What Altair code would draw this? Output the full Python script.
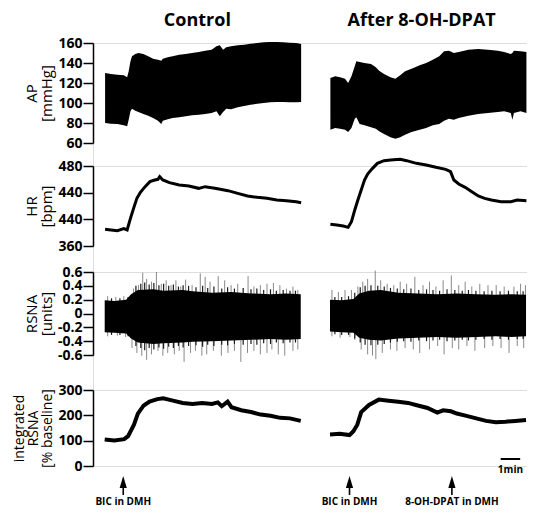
import altair as alt
import pandas as pd

FONT = "Open Sans"
R_OFFSET = 11.55  # start of the right-hand recording on the shared minute axis

# ---------------- AP (mmHg): envelope of pulsatile pressure ----------------
AP_L_T = [0.02, 0.32, 0.65, 0.98, 1.15, 1.23, 1.32, 1.4, 1.57, 1.73, 1.98, 2.23, 2.48, 2.73, 2.9, 2.98,
          3.23, 3.48, 3.82, 4.15, 4.48, 4.82, 5.15, 5.48, 5.73, 5.9, 6.07, 6.23, 6.48, 6.82, 7.15, 7.48,
          7.82, 8.15, 8.48, 8.82, 9.15, 9.48, 9.82, 10.07]
AP_L_HI = [130, 129, 128.3, 127.7, 125.7, 131.7, 141.7, 146.7, 149, 150, 149, 146.7, 144.3, 143.3, 142.3, 144.3,
           145.7, 146.7, 148.3, 149, 150, 151, 152.3, 153.3, 156.7, 157.7, 153.3, 155.7, 156.7, 157.7, 158.3, 159.3,
           160, 160.7, 161, 161, 160.7, 160.3, 160, 159]
AP_L_LO = [80, 79.3, 79, 77.7, 76.7, 83.3, 91.7, 94.3, 92.3, 91, 89, 87.3, 85, 82.3, 79, 82.3,
           83.7, 85, 85.7, 86.7, 87.7, 88.3, 89, 90, 91.7, 86.7, 91, 94.3, 93.7, 95.7, 97, 98.3,
           99.3, 100, 100.7, 101, 101, 100.7, 100.7, 101]
AP_R_T = [0.02, 0.27, 0.52, 0.77, 0.93, 1.1, 1.27, 1.35, 1.52, 1.77, 2.1, 2.35, 2.52, 2.77, 3.1, 3.35,
          3.6, 3.85, 4.18, 4.6, 4.93, 5.27, 5.6, 5.85, 6.1, 6.35, 6.6, 7.1, 7.6, 8.1, 8.6, 8.93,
          9.27, 9.35, 9.43, 9.77, 10.07]
AP_R_HI = [125, 126.7, 125.7, 124.3, 120, 126.7, 136.7, 141.7, 141, 140, 139, 135.7, 132.3, 129, 125.7, 124.3,
           127.7, 131.7, 134.3, 137.7, 140, 143.3, 146.7, 151.7, 152.3, 150, 151, 153.3, 154, 153.3, 152.3, 151,
           149, 150, 152.3, 151.7, 151]
AP_R_LO = [73.3, 75, 74.3, 73.3, 71, 75, 84.3, 85.7, 79, 77.7, 75.7, 74.3, 71.7, 69, 65.7, 64.3,
           65.7, 68.3, 71, 73.3, 75, 77.7, 79, 82.3, 84.3, 83.3, 85, 87.3, 89, 90, 91, 91.7,
           90, 83.3, 90, 91.7, 90]
AP_TICKS = [60, 80, 100, 120, 140, 160]

# ---------------- HR (bpm) ----------------
HR_L_T = [0.02, 0.32, 0.65, 0.98, 1.15, 1.32, 1.48, 1.65, 1.82, 2.07, 2.32, 2.57, 2.73, 2.82, 2.98,
          3.32, 3.82, 4.32, 4.82, 5.15, 5.65, 6.32, 6.82, 7.32, 7.82, 8.32, 8.82, 9.32, 9.82, 10.07]
HR_L_V = [385, 384, 383, 386, 384, 401.5, 416.5, 431.5, 440, 449, 456.5, 459, 460, 464, 459,
          455, 451.5, 450, 446.5, 449, 446.5, 443, 439, 435, 433, 431.5, 429, 428, 426.5, 425]
HR_R_T = [0.02, 0.35, 0.68, 0.93, 1.1, 1.27, 1.43, 1.6, 1.77, 1.93, 2.18, 2.43, 2.77, 3.1, 3.6, 3.93,
          4.43, 4.93, 5.43, 5.93, 6.18, 6.35, 6.6, 6.93, 7.27, 7.6, 7.93, 8.27, 8.77, 9.27, 9.6, 10.07]
HR_R_V = [392.5, 391.5, 390, 388, 396.5, 414, 429, 444, 459, 468, 476.5, 484, 488, 489, 490, 488,
          484, 481.5, 478, 475, 471.5, 459, 453, 448, 441.5, 435, 431.5, 429, 426.5, 426.5, 429, 428]
HR_TICKS = [360, 400, 440, 480]

# ---------------- RSNA (units): dense band, dark texture spikes, isolated grey spikes ----------------
RSNA_L_T = [0, 0.5, 1.1, 1.35, 1.7, 2.5, 3.0, 4.0, 4.5, 5.5, 6.5, 7.5, 8.5, 9.3, 10.05]
RSNA_L_HI = [0.19, 0.18, 0.2, 0.28, 0.34, 0.35, 0.33, 0.34, 0.32, 0.3, 0.31, 0.29, 0.28, 0.29, 0.28]
RSNA_L_LO = [-0.27, -0.28, -0.29, -0.36, -0.42, -0.44, -0.43, -0.42, -0.41, -0.4, -0.39, -0.38, -0.37, -0.38, -0.37]
RSNA_R_T = [0, 0.6, 1.2, 1.5, 2.0, 2.6, 3.5, 4.5, 5.5, 6.5, 7.5, 8.5, 9.3, 10.05]
RSNA_R_HI = [0.2, 0.19, 0.21, 0.29, 0.33, 0.34, 0.3, 0.29, 0.28, 0.29, 0.28, 0.27, 0.28, 0.27]
RSNA_R_LO = [-0.26, -0.27, -0.28, -0.35, -0.38, -0.39, -0.36, -0.35, -0.34, -0.35, -0.34, -0.33, -0.34, -0.33]

RSNA_L_BK_T = [0.35, 0.78, 1.2, 1.6, 1.85, 2.05, 2.28, 2.52, 2.78, 3.02, 3.28, 3.52, 3.78, 4.02, 4.3, 4.68,
               5.02, 5.28, 5.6, 6.0, 6.3, 6.65, 7.1, 7.5, 7.8, 8.15, 8.5, 8.8, 9.15, 9.5, 9.78]
RSNA_L_BK_UP = [0.22, 0.22, 0.24, 0.4, 0.43, 0.45, 0.42, 0.44, 0.41, 0.43, 0.4, 0.42, 0.39, 0.41, 0.4, 0.38,
                0.4, 0.37, 0.39, 0.36, 0.38, 0.36, 0.37, 0.35, 0.36, 0.34, 0.35, 0.33, 0.34, 0.33, 0.33]
RSNA_L_BK_DN = [-0.31, -0.31, -0.33, -0.47, -0.5, -0.53, -0.5, -0.52, -0.49, -0.51, -0.48, -0.5, -0.47, -0.49, -0.47, -0.46,
                -0.48, -0.45, -0.47, -0.45, -0.46, -0.44, -0.45, -0.44, -0.45, -0.43, -0.44, -0.42, -0.43, -0.42, -0.42]
RSNA_R_BK_T = [0.25, 0.6, 0.95, 1.27, 1.55, 1.8, 2.1, 2.45, 2.78, 3.1, 3.45, 3.78, 4.15, 4.55, 4.95, 5.28,
               5.62, 6.0, 6.4, 6.78, 7.1, 7.48, 7.9, 8.3, 8.72, 9.15, 9.6, 9.9]
RSNA_R_BK_UP = [0.24, 0.24, 0.25, 0.3, 0.38, 0.4, 0.41, 0.4, 0.39, 0.37, 0.36, 0.35, 0.36, 0.34, 0.35, 0.34,
                0.33, 0.35, 0.34, 0.33, 0.34, 0.33, 0.32, 0.33, 0.32, 0.33, 0.32, 0.32]
RSNA_R_BK_DN = [-0.3, -0.31, -0.31, -0.36, -0.42, -0.45, -0.46, -0.45, -0.44, -0.42, -0.41, -0.4, -0.41, -0.39, -0.4, -0.39,
                -0.38, -0.4, -0.39, -0.38, -0.39, -0.38, -0.37, -0.38, -0.37, -0.38, -0.37, -0.37]

RSNA_L_UP_T = [0.15, 0.57, 0.98, 1.48, 1.73, 1.95, 2.15, 2.4, 2.65, 2.9, 3.15, 3.4, 3.65, 3.9, 4.15, 4.48,
               4.9, 5.15, 5.4, 5.82, 6.15, 6.48, 6.82, 7.35, 7.65, 7.98, 8.32, 8.65, 8.98, 9.32, 9.65, 9.9]
RSNA_L_UP_V = [0.25, 0.24, 0.25, 0.36, 0.41, 0.59, 0.5, 0.46, 0.6, 0.43, 0.48, 0.41, 0.48, 0.39, 0.49, 0.41,
               0.58, 0.53, 0.46, 0.54, 0.48, 0.41, 0.43, 0.54, 0.39, 0.41, 0.43, 0.44, 0.41, 0.36, 0.39, 0.34]
RSNA_L_DN_T = [0.15, 0.65, 1.07, 1.4, 1.65, 1.9, 2.15, 2.4, 2.73, 2.98, 3.23, 3.57, 3.82, 4.07, 4.4, 4.65,
               4.98, 5.23, 5.57, 5.98, 6.32, 6.65, 6.98, 7.32, 7.65, 7.98, 8.32, 8.57, 8.9, 9.23, 9.65, 9.9]
RSNA_L_DN_V = [-0.33, -0.32, -0.34, -0.5, -0.57, -0.61, -0.67, -0.59, -0.54, -0.61, -0.57, -0.59, -0.54, -0.7, -0.57, -0.54,
               -0.61, -0.59, -0.54, -0.61, -0.57, -0.54, -0.7, -0.57, -0.54, -0.59, -0.57, -0.52, -0.59, -0.61, -0.54, -0.52]
RSNA_R_UP_T = [0.1, 0.43, 0.77, 1.1, 1.43, 1.68, 1.93, 2.32, 2.6, 2.93, 3.27, 3.6, 3.93, 4.35, 4.77, 5.1,
               5.43, 5.8, 6.22, 6.6, 6.93, 7.27, 7.68, 8.1, 8.52, 8.93, 9.43, 9.77, 10.02]
RSNA_R_UP_V = [0.34, 0.31, 0.34, 0.34, 0.39, 0.46, 0.5, 0.62, 0.48, 0.43, 0.41, 0.46, 0.43, 0.53, 0.41, 0.46,
               0.39, 0.48, 0.55, 0.41, 0.46, 0.39, 0.43, 0.41, 0.41, 0.39, 0.39, 0.43, 0.41]
RSNA_R_DN_T = [0.1, 0.52, 1.02, 1.27, 1.6, 1.93, 2.18, 2.35, 2.68, 3.1, 3.43, 3.85, 4.27, 4.6, 5.1, 5.52,
               5.85, 6.27, 6.6, 7.02, 7.43, 7.93, 8.35, 8.77, 9.18, 9.6, 9.93]
RSNA_R_DN_V = [-0.33, -0.35, -0.34, -0.38, -0.52, -0.59, -0.61, -0.66, -0.57, -0.52, -0.54, -0.5, -0.52, -0.57, -0.52, -0.47,
               -0.59, -0.5, -0.52, -0.47, -0.54, -0.5, -0.47, -0.5, -0.57, -0.47, -0.5]
RSNA_TICKS = [-0.6, -0.4, -0.2, 0, 0.2, 0.4, 0.6]

# ---------------- integrated RSNA (% baseline) ----------------
INT_L_T = [0, 0.5, 1.0, 1.2, 1.5, 1.7, 2.0, 2.3, 2.7, 3.0, 3.5, 4.0, 4.5, 5.0, 5.5, 5.8, 6.0, 6.3, 6.5,
           7.0, 7.5, 8.0, 8.5, 9.0, 9.5, 10.05]
INT_L_V = [105, 101, 106, 118, 163, 207, 239, 254, 264, 267, 258, 249, 245, 249, 245, 251, 236, 254, 232,
           220, 213, 203, 198, 190, 188, 178]
INT_R_T = [0, 0.5, 1.0, 1.2, 1.4, 1.6, 2.0, 2.5, 3.0, 3.5, 4.0, 4.5, 5.0, 5.5, 5.8, 6.2, 6.5, 7.0, 7.5,
           8.0, 8.5, 9.0, 9.5, 10.05]
INT_R_V = [124, 127, 122, 137, 163, 213, 241, 262, 258, 254, 249, 239, 229, 211, 220, 216, 207, 198, 188,
           178, 173, 175, 178, 182]
INT_TICKS = [0, 100, 200, 300]

# ---------------- text / annotations ----------------
TITLE_PANEL = ["L", "R"]
TITLE_T = [4.75, 4.7]
TITLE_TEXT = ["Control", "After 8-OH-DPAT"]
EVENT_PANEL = ["L", "R", "R"]
EVENT_T = [0.95, 1.0, 6.25]
EVENT_TEXT = ["BIC in DMH", "BIC in DMH", "8-OH-DPAT in DMH"]
BAR_PANEL = "R"
BAR_T = [8.75, 9.75]
BAR_TEXT = "1min"


def shift(panel, ts):
    off = 0.0 if panel == "L" else R_OFFSET
    return [t + off for t in ts]


def frame(panel, ts, **cols):
    d = {"t": shift(panel, ts), "panel": panel}
    d.update(cols)
    return pd.DataFrame(d)


ap = pd.concat([frame("L", AP_L_T, lo=AP_L_LO, hi=AP_L_HI), frame("R", AP_R_T, lo=AP_R_LO, hi=AP_R_HI)])
hr = pd.concat([frame("L", HR_L_T, v=HR_L_V), frame("R", HR_R_T, v=HR_R_V)])
rs_band = pd.concat([frame("L", RSNA_L_T, lo=RSNA_L_LO, hi=RSNA_L_HI),
                     frame("R", RSNA_R_T, lo=RSNA_R_LO, hi=RSNA_R_HI)])
rs_spk = pd.concat([frame("L", RSNA_L_UP_T, v=RSNA_L_UP_V), frame("L", RSNA_L_DN_T, v=RSNA_L_DN_V),
                    frame("R", RSNA_R_UP_T, v=RSNA_R_UP_V), frame("R", RSNA_R_DN_T, v=RSNA_R_DN_V)])
rs_blk = pd.concat([frame("L", RSNA_L_BK_T, v=RSNA_L_BK_UP), frame("L", RSNA_L_BK_T, v=RSNA_L_BK_DN),
                    frame("R", RSNA_R_BK_T, v=RSNA_R_BK_UP), frame("R", RSNA_R_BK_T, v=RSNA_R_BK_DN)])
integ = pd.concat([frame("L", INT_L_T, v=INT_L_V), frame("R", INT_R_T, v=INT_R_V)])
titles = pd.DataFrame({"t": [shift(p, [t])[0] for p, t in zip(TITLE_PANEL, TITLE_T)], "label": TITLE_TEXT})
events = pd.DataFrame({"t": [shift(p, [t])[0] for p, t in zip(EVENT_PANEL, EVENT_T)], "label": EVENT_TEXT})
bar_t = shift(BAR_PANEL, BAR_T)
bar = pd.DataFrame({"t": [bar_t[0]], "t2": [bar_t[1]], "tm": [(bar_t[0] + bar_t[1]) / 2], "label": [BAR_TEXT]})

W = 434
XSCALE = alt.Scale(domain=[-0.6, 21.65], nice=False, zero=False)
X = alt.X("t:Q", scale=XSCALE, axis=None)


def yaxis(title, values, label_expr=None, title_size=15, line_h=15):
    kw = dict(values=values, tickCount=len(values), title=title, grid=False, domainColor="black",
              domainWidth=1.5, tickColor="black", tickWidth=1.5, tickSize=10, labelColor="black",
              labelFontSize=14, labelFontWeight="bold", labelPadding=1, labelOverlap=False,
              titleColor="black", titleFontSize=title_size, titleFontWeight="normal", titlePadding=3,
              titleLineHeight=line_h, labelFont=FONT, titleFont=FONT)
    if label_expr:
        kw["labelExpr"] = label_expr
    return alt.Axis(**kw)


# Row 1: AP
y1 = alt.Scale(domain=[60, 160], range=[100, 0], nice=False, zero=False)
row1 = alt.layer(
    alt.Chart(ap).mark_area(color="black", opacity=1).encode(
        x=X, y=alt.Y("lo:Q", scale=y1, axis=yaxis(["AP", "[mmHg]"], AP_TICKS)),
        y2="hi:Q", detail="panel:N"),
    alt.Chart(titles).mark_text(font=FONT, fontSize=18, fontWeight="bold", color="black", baseline="middle").encode(
        x=X, y=alt.value(-22), text="label:N"),
).properties(width=W, height=123)

# Row 2: HR
y2s = alt.Scale(domain=[360, 480], range=[80, 0], nice=False, zero=False)
row2 = alt.Chart(hr).mark_line(color="black", strokeWidth=3).encode(
    x=X, y=alt.Y("v:Q", scale=y2s, axis=yaxis(["HR", "[bpm]"], HR_TICKS,
                                              "datum.value == 400 ? '440' : datum.label")),
    detail="panel:N").properties(width=W, height=106)

# Row 3: RSNA
y3 = alt.Scale(domain=[-0.6, 0.6], range=[83, 0], nice=False, zero=False)
rs_expr = ("datum.value == 0 ? '0' : (datum.value < 0 ? '-' + format(-datum.value, '.1f') "
           ": format(datum.value, '.1f'))")
row3 = alt.layer(
    alt.Chart(rs_spk).mark_rule(color="#7a7a7a", strokeWidth=0.9).encode(
        x=X, y=alt.Y("v:Q", scale=y3, axis=yaxis(["RSNA", "[units]"], RSNA_TICKS, rs_expr)),
        y2=alt.datum(0)),
    alt.Chart(rs_blk).mark_rule(color="#1a1a1a", strokeWidth=1.2).encode(
        x=X, y=alt.Y("v:Q", scale=y3), y2=alt.datum(0)),
    alt.Chart(rs_band).mark_area(color="black", opacity=1).encode(
        x=X, y=alt.Y("lo:Q", scale=y3), y2="hi:Q", detail="panel:N"),
).properties(width=W, height=118)

# Row 4: integrated RSNA + event annotations
y4 = alt.Scale(domain=[0, 300], nice=False, zero=False)
row4 = alt.layer(
    alt.Chart(integ).mark_line(color="black", strokeWidth=4).encode(
        x=X, y=alt.Y("v:Q", scale=y4,
                     axis=yaxis(["integrated", "RSNA", "[% baseline]"], INT_TICKS, title_size=14, line_h=14)),
        detail="panel:N"),
    alt.Chart(events).mark_point(shape="M0,-1L0.6,1L-0.6,1Z", size=144, filled=True, color="black",
                                 opacity=1).encode(x=X, y=alt.value(92)),
    alt.Chart(events).mark_rule(color="black", strokeWidth=1.6).encode(
        x=X, y=alt.value(95), y2=alt.value(105)),
    alt.Chart(events).mark_text(font=FONT, fontSize=10, fontWeight="bold", color="black",
                                baseline="middle").encode(x=X, y=alt.value(112), text="label:N"),
    alt.Chart(bar).mark_rule(color="black", strokeWidth=2).encode(
        x=X, x2="t2:Q", y=alt.value(69)),
    alt.Chart(bar).mark_text(font=FONT, fontSize=10, fontWeight="bold", color="black",
                             baseline="middle").encode(
        x=alt.X("tm:Q", scale=XSCALE, axis=None), y=alt.value(80), text="label:N"),
).properties(width=W, height=76)

chart = alt.vconcat(row1, row2, row3, row4, spacing=0, bounds="flush").properties(
    padding={"left": 4, "top": 3, "right": -8, "bottom": 0}
).configure_view(stroke=None).configure(font=FONT)

chart.save("out.html", embed_options={"renderer": "svg", "actions": False})
